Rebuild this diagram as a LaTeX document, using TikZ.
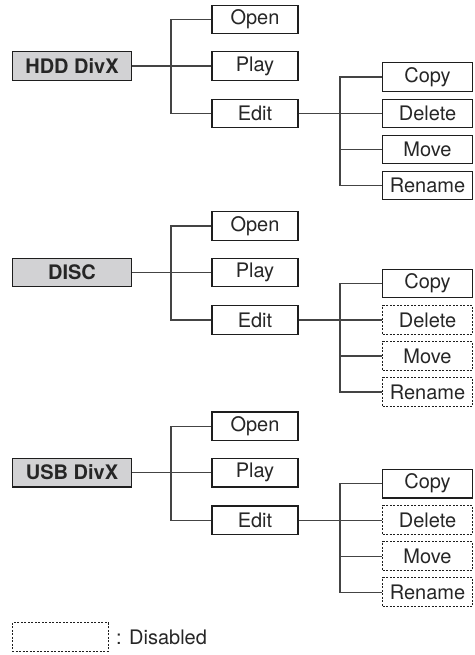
\documentclass[tikz,border=0pt]{standalone}
\usepackage{fontspec}
\setmainfont{TeX Gyre Heros}
\definecolor{rootfill}{HTML}{D2D2D4}
\definecolor{boxline}{HTML}{1E1E1E}
\definecolor{conn}{HTML}{444444}
\begin{document}
\begin{tikzpicture}[x=1pt,y=-1pt,
  base/.style={draw=boxline,line width=1.3pt,inner sep=0pt,minimum height=28.5pt,
    font=\fontsize{20}{24}\selectfont,text=black!85},
  rootbox/.style={base,fill=rootfill,minimum width=119pt,font=\fontsize{20}{24}\selectfont\bfseries},
  menubox/.style={base,minimum width=86pt},
  subbox/.style={base,minimum width=90pt},
  disbox/.style={subbox,line width=1pt,dash pattern=on 2pt off 1.5pt},
  enbox/.style={subbox},
  link/.style={draw=conn,line width=1.2pt}]
\useasboundingbox (0,0) rectangle (474,655);
\foreach \i/\b/\t/\s in {1/0/HDD DivX/enbox, 2/206.4/DISC/disbox, 3/406.6/USB DivX/disbox}{
  \node[rootbox] (r\i) at (72,66+\b) {\t};
  \node[menubox] (o\i) at (255,19.5+\b) {Open};
  \node[menubox] (p\i) at (255,66+\b) {Play};
  \node[menubox] (e\i) at (255,113.5+\b) {Edit};
  \node[enbox] (c\i) at (427.5,77+\b) {Copy};
  \node[\s] (d\i) at (427.5,113.5+\b) {Delete};
  \node[\s] (m\i) at (427.5,149.5+\b) {Move};
  \node[\s] (n\i) at (427.5,185.5+\b) {Rename};
  \coordinate (t\i) at (171,66+\b);
  \coordinate (u\i) at (340,113.5+\b);
  \draw[link] (r\i.east) -- (p\i.west);
  \draw[link] (o\i.west) -| (t\i) |- (e\i.west);
  \draw[link] (e\i.east) -- (d\i.west);
  \draw[link] (c\i.west) -| (u\i) |- (n\i.west);
  \draw[link] (u\i |- m\i.west) -- (m\i.west);
}
\node[base,minimum width=96pt,line width=1pt,dash pattern=on 2pt off 1.5pt] (leg) at (60,637) {};
\node[font=\fontsize{20}{24}\selectfont,text=black!85,anchor=west,inner sep=0pt] (legt) at (116,637) {: Disabled};
\end{tikzpicture}
\end{document}
